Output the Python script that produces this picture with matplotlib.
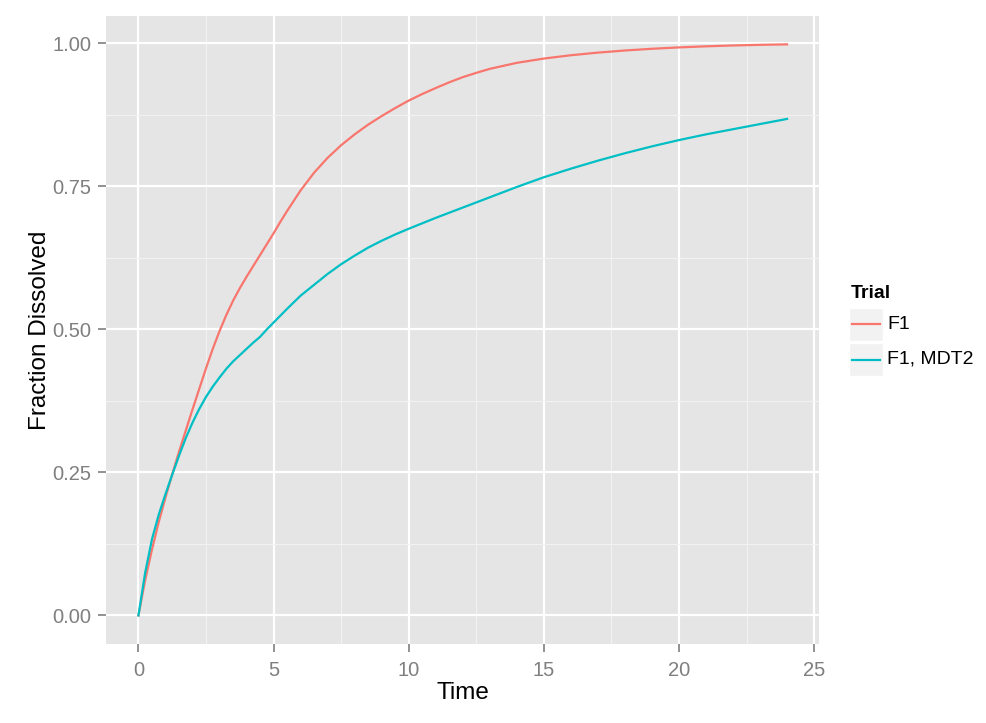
import matplotlib
matplotlib.use('Agg')
import matplotlib.pyplot as plt
from matplotlib.patches import Rectangle
from matplotlib.lines import Line2D

plt.rcParams['font.family'] = ['Liberation Sans', 'DejaVu Sans']

# 数据
time_f1 = [0, 0.25, 0.5, 0.75, 1, 1.25, 1.5, 1.75, 2, 2.25, 2.5, 2.75, 3, 3.25, 3.5,
           3.75, 4, 4.25, 4.5, 4.75, 5, 5.25, 5.5, 5.75, 6, 6.5, 7, 7.5, 8, 8.5, 9,
           9.5, 10, 10.5, 11, 11.5, 12, 12.5, 13, 14, 15, 16, 17, 18, 19, 20,
           21, 22, 23, 24]
frac_f1 = [0, 0.062, 0.115, 0.163, 0.206, 0.247, 0.286, 0.323, 0.36, 0.396, 0.432,
           0.466, 0.497, 0.525, 0.55, 0.572, 0.592, 0.611, 0.63, 0.649, 0.668, 0.688,
           0.707, 0.725, 0.743, 0.774, 0.8, 0.822, 0.841, 0.858, 0.873, 0.887, 0.9,
           0.9115, 0.922, 0.932, 0.941, 0.9485, 0.9555, 0.966, 0.9735, 0.9793,
           0.9839, 0.9876, 0.9906, 0.993, 0.9949, 0.9964, 0.9975, 0.9983]

time_mdt2 = [0, 0.25, 0.5, 0.75, 1, 1.25, 1.5, 1.75, 2, 2.25, 2.5, 2.75, 3, 3.25, 3.5,
             3.75, 4, 4.25, 4.5, 4.75, 5, 5.5, 6, 6.5, 7, 7.5, 8, 8.5, 9, 9.5, 10, 11,
             12, 13, 14, 15, 16, 17, 18, 19, 20, 21, 22, 23, 24]
frac_mdt2 = [0, 0.075, 0.133, 0.176, 0.212, 0.246, 0.279, 0.31, 0.337, 0.361, 0.382,
             0.4, 0.416, 0.431, 0.444, 0.455, 0.466, 0.477, 0.487, 0.5, 0.512, 0.536,
             0.559, 0.578, 0.597, 0.614, 0.629, 0.643, 0.655, 0.666, 0.676, 0.695,
             0.713, 0.731, 0.749, 0.766, 0.781, 0.795, 0.808, 0.82, 0.831, 0.841,
             0.85, 0.859, 0.868]

trial_names = ['F1', 'F1, MDT2']
trial_colors = ['#F8766D', '#00BFC4']

x_ticks = [0, 5, 10, 15, 20, 25]
y_ticks = [0.0, 0.25, 0.5, 0.75, 1.0]
y_ticklabels = ['0.00', '0.25', '0.50', '0.75', '1.00']

W, H = 987, 723
fig = plt.figure(figsize=(W / 100, H / 100), dpi=100)
ax = fig.add_axes([106 / W, 1 - 644 / H, (819.5 - 106) / W, (644 - 16) / H])

# ggplot 风格背景
ax.set_facecolor('#E5E5E5')
for s in ax.spines.values():
    s.set_visible(False)

ax.set_xlim(-1.2, 25.2)
ax.set_ylim(-0.0499, 1.0479)

ax.set_xticks(x_ticks)
ax.set_yticks(y_ticks)
ax.set_yticklabels(y_ticklabels)
ax.set_xticks([2.5, 7.5, 12.5, 17.5, 22.5], minor=True)
ax.set_yticks([0.125, 0.375, 0.625, 0.875], minor=True)

ax.grid(which='major', color='white', linewidth=1.6)
ax.grid(which='minor', color='#F2F2F2', linewidth=0.8)
ax.set_axisbelow(True)

ax.tick_params(which='major', length=6, width=1.2, color='#7F7F7F',
               labelcolor='#7F7F7F', labelsize=14.5, pad=4.5)
ax.tick_params(axis='x', which='major', pad=6)
ax.tick_params(which='minor', length=0)

ax.set_xlabel('Time', fontsize=17.5, color='black', labelpad=2)
ax.set_ylabel('Fraction Dissolved', fontsize=17.5, color='black', labelpad=1)

# 绘制曲线
ax.plot(time_f1, frac_f1, color=trial_colors[0], linewidth=1.6)
ax.plot(time_mdt2, frac_mdt2, color=trial_colors[1], linewidth=1.6)

# 图例 (手工画, 模仿 ggplot)
fig.text(851 / W, 1 - 293 / H, 'Trial', fontsize=14, fontweight='bold',
         ha='left', va='center')
key_tops = [308, 343]
for i, name in enumerate(trial_names):
    top = key_tops[i]
    fig.add_artist(Rectangle((849 / W, 1 - (top + 33) / H), 34 / W, 33 / H,
                             transform=fig.transFigure, facecolor='#F2F2F2',
                             edgecolor='white', linewidth=1))
    yc = 1 - (top + 16.5) / H
    fig.add_artist(Line2D([852 / W, 880 / W], [yc, yc], transform=fig.transFigure,
                          color=trial_colors[i], linewidth=1.6))
    fig.text(887 / W, yc, name, fontsize=14, ha='left', va='center')

fig.savefig('out.png', dpi=100)
